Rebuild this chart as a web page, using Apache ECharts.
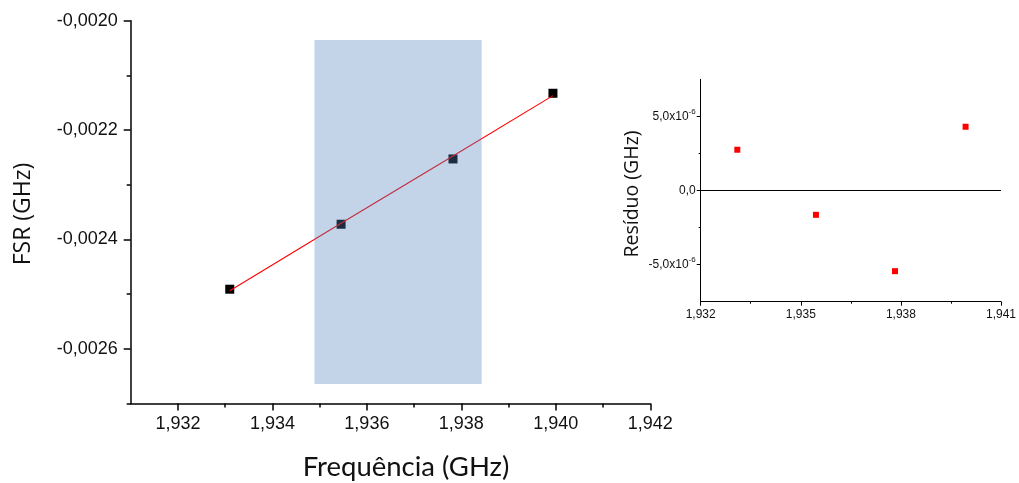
<!DOCTYPE html>
<html>
<head>
<meta charset="utf-8">
<script src="https://cdn.jsdelivr.net/npm/echarts@6/dist/echarts.min.js"></script>
<style>
  html, body { margin: 0; padding: 0; background: #fff; }
  #chart { width: 1019px; height: 483px; }
</style>
</head>
<body>
<div id="chart"></div>
<script>
// Measured FSR against frequency, with a linear fit and its residuals.
const frequencia = [1.933097, 1.935454, 1.937823, 1.939939];   // GHz
const fsr = [-0.002491, -0.0023722, -0.0022528, -0.0021327];    // GHz
const residuo = [2.75e-6, -1.64e-6, -5.44e-6, 4.30e-6];          // GHz

// Highlighted frequency window (x range) and its vertical span
const faixaX = [1.93489, 1.93843];
const faixaY = [-0.0026642, -0.0020353];

// Tick values
const mainXTicks = [1.932, 1.934, 1.936, 1.938, 1.940, 1.942];
const mainXMinor = [1.933, 1.935, 1.937, 1.939, 1.941];
const mainYTicks = [-0.0026, -0.0024, -0.0022, -0.0020];
const mainYMinor = [-0.0027, -0.0025, -0.0023, -0.0021];
const insetXTicks = [1.932, 1.935, 1.938, 1.941];
const insetYTicks = [-5e-6, 0, 5e-6];
const insetYMinor = [-2.5e-6, 2.5e-6];

// Fitted line = measured value minus residual
const ajuste = frequencia.map((f, i) => [f, fsr[i] - residuo[i]]);
const pontos = frequencia.map((f, i) => [f, fsr[i]]);
const pontosRes = frequencia.map((f, i) => [f, residuo[i]]);

const BLACK = '#000';
const tickFont = 'Liberation Sans, Arial, sans-serif';
const comma = (v, d) => v.toFixed(d).replace('.', ',');

function baseAxis(extra) {
  return Object.assign({
    type: 'value',
    splitLine: { show: false },
    axisLine: { show: true, onZero: false, lineStyle: { color: BLACK, width: 1.5 } }
  }, extra);
}

const chart = echarts.init(document.getElementById('chart'), null, { renderer: 'canvas' });

chart.setOption({
  animation: false,
  backgroundColor: '#fff',
  grid: [
    { left: 130.7, top: 20.7, width: 519.6, height: 382.8 },
    { left: 700.7, top: 79.3, width: 302.6, height: 222.4 }
  ],
  xAxis: [
    baseAxis({
      gridIndex: 0, min: 1.931, max: 1.942, position: 'bottom',
      axisTick: { show: true, customValues: mainXTicks, length: 7, lineStyle: { color: BLACK, width: 1.5 } },
      axisLabel: {
        customValues: mainXTicks, formatter: v => comma(v, 3),
        fontFamily: tickFont, fontSize: 18, color: '#111', margin: 12
      }
    }),
    baseAxis({
      gridIndex: 0, min: 1.931, max: 1.942, position: 'bottom',
      axisLine: { show: false, onZero: false },
      axisTick: { show: true, customValues: mainXMinor, length: 4, lineStyle: { color: BLACK, width: 1.5 } },
      axisLabel: { show: false }
    }),
    baseAxis({
      gridIndex: 1, min: 1.932, max: 1.941, interval: 0.003, position: 'bottom',
      axisLine: { show: true, onZero: false, lineStyle: { color: BLACK, width: 1 } },
      axisTick: { show: true, length: 4, lineStyle: { color: BLACK, width: 1 } },
      minorTick: { show: true, splitNumber: 2, length: 2, lineStyle: { color: BLACK, width: 1 } },
      axisLabel: {
        formatter: v => comma(v, 3),
        fontFamily: tickFont, fontSize: 12, color: '#111', margin: 7
      }
    })
  ],
  yAxis: [
    baseAxis({
      gridIndex: 0, min: -0.0027, max: -0.0020, position: 'left',
      axisTick: { show: true, customValues: mainYTicks, length: 7, lineStyle: { color: BLACK, width: 1.5 } },
      axisLabel: {
        customValues: mainYTicks, formatter: v => comma(v, 4),
        fontFamily: tickFont, fontSize: 18, color: '#111', margin: 13
      }
    }),
    baseAxis({
      gridIndex: 0, min: -0.0027, max: -0.0020, position: 'left',
      axisLine: { show: false, onZero: false },
      axisTick: { show: true, customValues: mainYMinor, length: 4, lineStyle: { color: BLACK, width: 1.5 } },
      axisLabel: { show: false }
    }),
    baseAxis({
      gridIndex: 1, min: -7.5e-6, max: 7.5e-6, position: 'left',
      axisLine: { show: true, onZero: false, lineStyle: { color: BLACK, width: 1 } },
      axisTick: { show: true, customValues: insetYTicks, length: 4, lineStyle: { color: BLACK, width: 1 } },
      axisLabel: {
        customValues: insetYTicks,
        formatter: v => {
          const m = Math.round(v * 1e6);
          if (m === 0) return '{a|0,0}';
          return '{a|' + (m < 0 ? '-' : '') + comma(Math.abs(m), 1) + 'x10}{b|-6}';
        },
        rich: {
          a: { fontFamily: tickFont, fontSize: 12, color: '#111' },
          b: { fontFamily: tickFont, fontSize: 8, color: '#111', padding: [0, 0, 10, 0] }
        },
        margin: 5
      }
    }),
    baseAxis({
      gridIndex: 1, min: -7.5e-6, max: 7.5e-6, position: 'left',
      axisLine: { show: false, onZero: false },
      axisTick: { show: true, customValues: insetYMinor, length: 2, lineStyle: { color: BLACK, width: 1 } },
      axisLabel: { show: false }
    })
  ],
  series: [
    {
      name: 'FSR',
      type: 'scatter',
      xAxisIndex: 0, yAxisIndex: 0,
      data: pontos,
      symbol: 'rect', symbolSize: 9,
      itemStyle: { color: '#000', opacity: 1 },
      z: 2
    },
    {
      name: 'Ajuste linear',
      type: 'line',
      xAxisIndex: 0, yAxisIndex: 0,
      data: ajuste,
      showSymbol: false,
      lineStyle: { color: '#ff0000', width: 1.1 },
      z: 3,
      markArea: {
        silent: true,
        z: 10,
        itemStyle: { color: 'rgba(80,128,187,0.34)' },
        data: [[
          { xAxis: faixaX[0], yAxis: faixaY[1] },
          { xAxis: faixaX[1], yAxis: faixaY[0] }
        ]]
      }
    },
    {
      name: 'Resíduo',
      type: 'scatter',
      xAxisIndex: 2, yAxisIndex: 2,
      data: pontosRes,
      symbol: 'rect', symbolSize: 6,
      itemStyle: { color: '#ff0000', opacity: 1 },
      markLine: {
        silent: true,
        symbol: ['none', 'none'],
        label: { show: false },
        lineStyle: { color: '#000', width: 1, type: 'solid' },
        data: [{ yAxis: 0 }]
      }
    }
  ],
  graphic: [
    {
      type: 'text', x: 23, y: 214, rotation: Math.PI / 2,
      style: {
        text: 'FSR (GHz)', fontFamily: 'Open Sans', fontSize: 23, fill: '#111',
        align: 'center', verticalAlign: 'middle'
      }
    },
    {
      type: 'text', x: 406, y: 467,
      style: {
        text: 'Frequência (GHz)', fontFamily: 'Lato', fontSize: 27.5, fill: '#111',
        align: 'center', verticalAlign: 'middle'
      }
    },
    {
      type: 'text', x: 632, y: 194, rotation: Math.PI / 2,
      style: {
        text: 'Resíduo (GHz)', fontFamily: 'Open Sans', fontSize: 19.5, fill: '#111',
        align: 'center', verticalAlign: 'middle'
      }
    }
  ]
});
</script>
</body>
</html>
